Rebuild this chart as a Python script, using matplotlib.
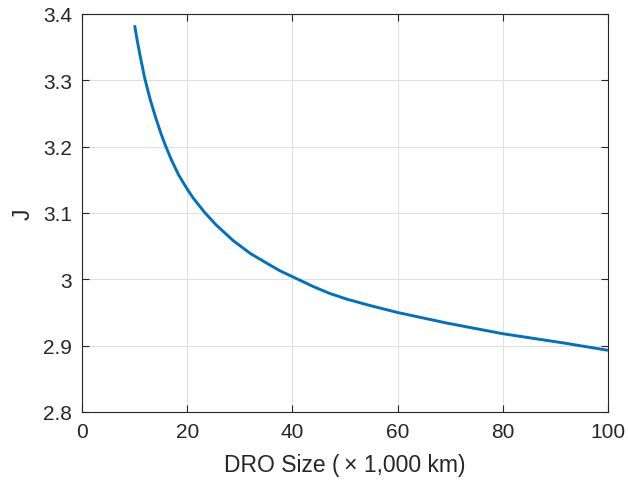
import numpy as np
import matplotlib
matplotlib.use('Agg')
import matplotlib.pyplot as plt

# DRO size (x 1,000 km) and Jacobi constant
dro_size = [10.0, 10.5, 11.0, 11.9, 13.0, 14.0, 15.0, 15.85, 17.0, 18.4,
            20.0, 21.2, 23.3, 25.5, 28.8, 32.0, 35.2, 37.6, 40.0, 44.0,
            47.0, 50.4, 55.0, 60.0, 69.4, 80.0, 91.6, 100.0]
jacobi = [3.383, 3.360, 3.339, 3.304, 3.270, 3.244, 3.220, 3.202, 3.180, 3.157,
          3.136, 3.122, 3.101, 3.082, 3.058, 3.039, 3.024, 3.013, 3.004, 2.989,
          2.979, 2.970, 2.960, 2.950, 2.934, 2.918, 2.904, 2.893]

x_ticks = [0, 20, 40, 60, 80, 100]
y_ticks = [2.8, 2.9, 3.0, 3.1, 3.2, 3.3, 3.4]
y_tick_labels = ['2.8', '2.9', '3', '3.1', '3.2', '3.3', '3.4']

plt.rcParams['font.family'] = ['Liberation Sans', 'DejaVu Sans']

fig = plt.figure(figsize=(6.28, 4.85), dpi=100)
ax = fig.add_axes([0.1306, 0.1485, 0.8374, 0.8206])

ax.plot(dro_size, jacobi, color='#0072BD', linewidth=2.1,
        solid_capstyle='butt', solid_joinstyle='round')

ax.set_xlim(0, 100)
ax.set_ylim(2.8, 3.4)
ax.set_xticks(x_ticks)
ax.set_yticks(y_ticks)
ax.set_yticklabels(y_tick_labels)
ax.grid(True, color='#e0e0e0', linewidth=0.8)
ax.set_axisbelow(True)

ax.tick_params(direction='in', top=True, right=True, length=5, width=0.8,
               colors='#262626', labelsize=15, pad=7)
for s in ax.spines.values():
    s.set_color('#262626')
    s.set_linewidth(0.8)

ax.set_xlabel('DRO Size (\u2009\u00d7 1,000 km)', fontsize=16.5, color='#262626', labelpad=9)
ax.set_ylabel('J', fontsize=16.5, color='#262626', labelpad=6)

fig.savefig('out.png', dpi=100)
